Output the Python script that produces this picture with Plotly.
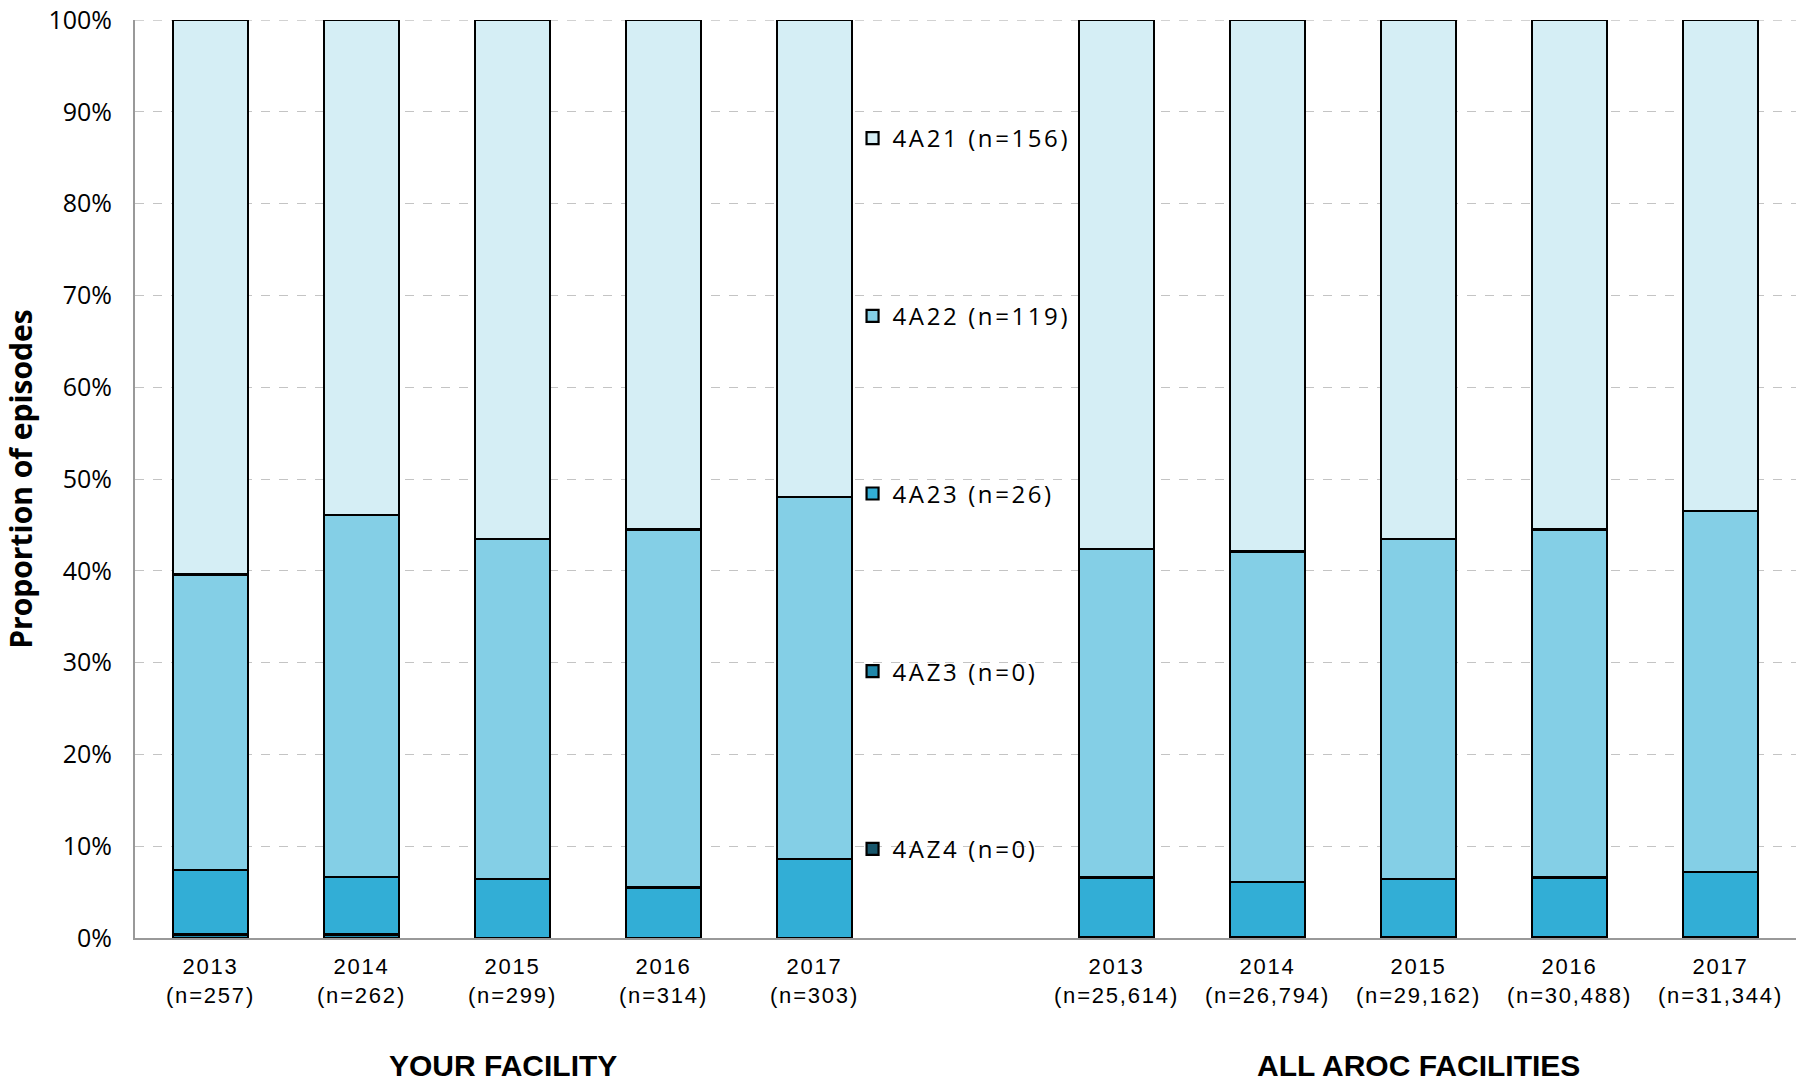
import plotly.graph_objects as go

# ---- data ----
years = ["2013", "2014", "2015", "2016", "2017"]
facility_n = ["257", "262", "299", "314", "303"]
aroc_n = ["25,614", "26,794", "29,162", "30,488", "31,344"]

series_names = ["4AZ4 (n=0)", "4AZ3 (n=0)", "4A23 (n=26)", "4A22 (n=119)", "4A21 (n=156)"]
series_colors = ["#17566b", "#2188aa", "#32aed6", "#84cfe6", "#d5eef5"]

# percentages, your facility (2013..2017)
fac_4AZ4 = [0.0, 0.0, 0.0, 0.0, 0.0]
fac_4AZ3 = [0.39, 0.38, 0.0, 0.0, 0.0]
fac_4A23 = [7.0, 6.3, 6.4, 5.5, 8.6]
fac_4A22 = [32.2, 39.4, 37.1, 39.0, 39.4]
fac_4A21 = [60.41, 53.92, 56.5, 55.5, 52.0]

# percentages, all AROC facilities (2013..2017)
all_4AZ4 = [0.05, 0.05, 0.05, 0.05, 0.05]
all_4AZ3 = [0.1, 0.1, 0.1, 0.1, 0.1]
all_4A23 = [6.45, 5.95, 6.25, 6.45, 7.05]
all_4A22 = [35.8, 36.0, 37.1, 37.9, 39.3]
all_4A21 = [57.6, 57.9, 56.5, 55.5, 53.5]

group_titles = ["YOUR FACILITY", "ALL AROC FACILITIES"]

fac_series = [fac_4AZ4, fac_4AZ3, fac_4A23, fac_4A22, fac_4A21]
all_series = [all_4AZ4, all_4AZ3, all_4A23, all_4A22, all_4A21]

# category positions: 0-4 facility, 6-10 all facilities (slot 5 holds legend)
x_fac = [0, 1, 2, 3, 4]
x_all = [6, 7, 8, 9, 10]
xs = x_fac + x_all

SP = '<span style="letter-spacing:1.8px">'
ticktext = [f"{SP}{y}</span><br>{SP}(n={n})</span>" for y, n in zip(years, facility_n)] + \
           [f"{SP}{y}</span><br>{SP}(n={n})</span>" for y, n in zip(years, aroc_n)]

fig = go.Figure()
for i, name in enumerate(series_names):
    fig.add_trace(go.Bar(
        x=xs,
        y=fac_series[i] + all_series[i],
        name=f'<span style="letter-spacing:2.6px">{name}</span>',
        legendgroup=name,
        legendrank=len(series_names) - i,
        marker=dict(color=series_colors[i], line=dict(color="#000000", width=2.2)),
        width=0.5,
        hoverinfo="y+name",
    ))

# full-window figure (body margin removed by post_script below)
W, H = 1796, 1081
ml, mr, mt, mb = 135, 0, 20, 143

fig.update_layout(
    width=W, height=H,
    barmode="stack",
    paper_bgcolor="white", plot_bgcolor="white",
    margin=dict(l=ml, r=mr, t=mt, b=mb, autoexpand=False),
    font=dict(family="Open Sans, DejaVu Sans, sans-serif", color="#000000"),
    showlegend=True,
    legend=dict(
        x=0.432, xanchor="left",
        y=0.8954, yanchor="top",
        traceorder="grouped",
        tracegroupgap=143.5,
        bgcolor="rgba(0,0,0,0)",
        font=dict(size=24, family="Open Sans, DejaVu Sans, sans-serif", color="#000"),
        itemwidth=30,
    ),
    xaxis=dict(
        range=[-0.5, 10.5],
        tickmode="array", tickvals=xs, ticktext=ticktext,
        tickfont=dict(size=22, family="Liberation Sans Narrow, Arial Narrow, Liberation Sans, sans-serif"),
        showgrid=False, zeroline=False,
        showline=True, linecolor="#999999", linewidth=2,
        ticks="", ticklabelstandoff=8,
    ),
    yaxis=dict(
        range=[0, 100],
        tickmode="array", tickvals=list(range(0, 101, 10)),
        ticktext=[f"{v}%" for v in range(0, 101, 10)],
        tickfont=dict(size=25, family="Open Sans, sans-serif"),
        ticklabeloverflow="allow",
        showgrid=True, gridcolor="#c4c4c4", griddash="dash", gridwidth=1.3,
        zeroline=False,
        showline=True, linecolor="#999999", linewidth=2,
        ticks="", ticklabelstandoff=16,
        title=dict(text="<b>Proportion of episodes</b>",
                   font=dict(size=30, family="Open Sans, sans-serif"),
                   standoff=26),
    ),
    bargap=0.5,
)

# dashed gridline along the top edge (100%), drawn beneath the bars
fig.add_hline(y=100, line=dict(color="#c4c4c4", dash="dash", width=1.3), layer="below")

fig.add_annotation(x=2, y=0, xref="x", yref="paper", yshift=-127, xshift=-10,
                   yanchor="middle",
                   text=f"<b>{group_titles[0]}</b>", showarrow=False,
                   font=dict(size=30, family="Liberation Sans Narrow, Arial Narrow, Liberation Sans, sans-serif"))
fig.add_annotation(x=8, y=0, xref="x", yref="paper", yshift=-127,
                   yanchor="middle",
                   text=f"<b>{group_titles[1]}</b>", showarrow=False,
                   font=dict(size=30, family="Liberation Sans Narrow, Arial Narrow, Liberation Sans, sans-serif"))

fig.write_html(
    "out.html",
    config={"displayModeBar": False},
    post_script="document.body.style.margin='0';document.body.style.overflow='hidden';",
)
